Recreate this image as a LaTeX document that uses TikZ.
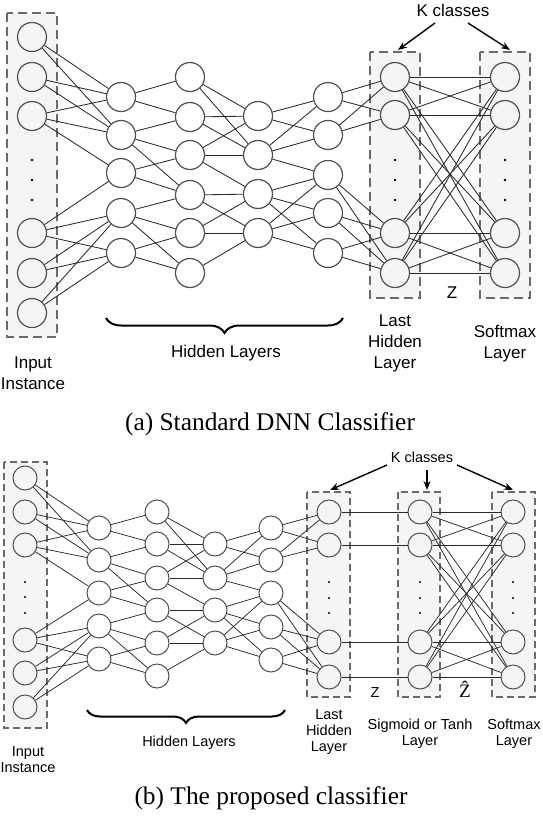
\documentclass[tikz,border=0pt]{standalone}
\usepackage{fontspec}
\setmainfont{Liberation Serif}
\newfontfamily\lsans{Liberation Sans}
\usetikzlibrary{decorations.pathreplacing,arrows.meta}
\definecolor{boxfill}{HTML}{F5F5F5}
\definecolor{boxline}{HTML}{6A6A6A}
\definecolor{edgecol}{HTML}{2A2A2A}
\definecolor{circline}{HTML}{505050}
\begin{document}
\begin{tikzpicture}[x=1pt,y=-1pt,
  neuA/.style={circle,draw=circline,line width=1.2pt,fill=white,minimum size=29pt,inner sep=0pt},
  neuB/.style={circle,draw=circline,line width=1pt,fill=white,minimum size=24pt,inner sep=0pt},
  inbox/.style={fill=boxfill},
  layboxA/.style={draw=boxline,fill=boxfill,line width=2.4pt,dash pattern=on 9pt off 5pt},
  layboxB/.style={draw=boxline,fill=boxfill,line width=2pt,dash pattern=on 7pt off 4pt},
  conA/.style={draw=edgecol,line width=0.85pt},
  conB/.style={draw=edgecol,line width=0.75pt},
  lblA/.style={font=\lsans\fontsize{17}{21}\selectfont,align=center,inner sep=0pt},
  lblB/.style={font=\lsans\fontsize{14.5}{16}\selectfont,align=center,inner sep=0pt},
  capt/.style={font=\fontsize{25.4}{30}\selectfont,inner sep=0pt},
  karrow/.style={-{Stealth[length=9pt,width=7pt]},line width=1.4pt,black},
  bracestyle/.style={decorate,line width=2pt,black},
  dot/.style={black}
]
\useasboundingbox (0,0) rectangle (542,822);

% ================= Panel (a) =================
\draw[layboxA] (7,13) rectangle (57,337);
\draw[layboxA] (370,52) rectangle (420,298);
\draw[layboxA] (480,52) rectangle (530,298);

\foreach \n/\y in {1/37,2/77,3/116,4/233,5/273,6/313}
  \node[neuA,inbox] (aI\n) at (32,\y) {};
\foreach \n/\y in {1/97,2/135,3/173,4/213,5/253}
  \node[neuA] (aA\n) at (121,\y) {};
\foreach \n/\y in {1/77,2/117,3/155,4/195,5/233,6/273}
  \node[neuA] (aB\n) at (190,\y) {};
\foreach \n/\y in {1/116,2/155,3/194,4/233}
  \node[neuA] (aC\n) at (258,\y) {};
\foreach \n/\y in {1/97,2/135,3/175,4/213,5/253}
  \node[neuA] (aD\n) at (328,\y) {};
\foreach \n/\y in {1/77,2/115,3/233,4/273}{
  \node[neuA,inbox] (aL\n) at (395,\y) {};
  \node[neuA,inbox] (aS\n) at (505,\y) {};
}
\foreach \x in {32,395,505}
  \foreach \y in {160,180,200}
    \fill[dot] (\x,\y) circle (1.4pt);

\foreach \s/\t in {1/1,1/2,2/1,2/2,3/1,3/2,3/3,4/3,4/4,4/5,5/4,5/5,6/4,6/5}
  \draw[conA] (aI\s) -- (aA\t);
\foreach \s/\t in {1/1,1/2,2/2,2/3,2/4,3/3,3/4,4/4,4/5,4/6,5/5,5/6}
  \draw[conA] (aA\s) -- (aB\t);
\foreach \s/\t in {1/1,1/2,2/1,2/2,3/1,3/2,3/3,4/3,4/4,5/3,5/4,6/4}
  \draw[conA] (aB\s) -- (aC\t);
\foreach \s/\t in {1/1,1/2,2/1,2/2,2/3,3/3,3/4,3/5,4/3,4/4,4/5}
  \draw[conA] (aC\s) -- (aD\t);
\foreach \s/\t in {1/1,1/2,2/1,2/2,3/3,3/4,4/3,4/4,5/3,5/4}
  \draw[conA] (aD\s) -- (aL\t);
\foreach \s in {1,2,3,4}
  \foreach \t in {1,2,3,4}
    \draw[conA] (aL\s) -- (aS\t);

\node[lblA] (aK) at (453,10) {K classes};
\coordinate (aKl) at (398,50);
\coordinate (aKr) at (510,50);
\draw[karrow] (435,23) -- (aKl);
\draw[karrow] (468,23) -- (aKr);
\node[lblA] (aZ) at (452,293) {Z};

\draw[bracestyle,decoration={brace,amplitude=15pt}] (343,318) -- (106,318);
\node[lblA] (aHid) at (226,353) {Hidden Layers};
\node[lblA] (aIn) at (33,373) {Input\\Instance};
\node[lblA] (aLast) at (395,343) {Last\\Hidden\\Layer};
\node[lblA] (aSoft) at (505,344) {Softmax\\Layer};
\node[capt] (capa) at (270,424) {(a) Standard DNN Classifier};

% ================= Panel (b) =================
\draw[layboxB] (4,462) rectangle (47,728);
\draw[layboxB] (307,492) rectangle (350,697);
\draw[layboxB] (398,492) rectangle (440,697);
\draw[layboxB] (492,492) rectangle (535,697);

\foreach \n/\y in {1/478,2/512,3/545,4/640,5/673,6/707}
  \node[neuB,inbox] (bI\n) at (25,\y) {};
\foreach \n/\y in {1/528,2/560,3/593,4/626,5/659}
  \node[neuB] (bA\n) at (99,\y) {};
\foreach \n/\y in {1/512,2/544,3/578,4/610,5/643,6/676}
  \node[neuB] (bB\n) at (157,\y) {};
\foreach \n/\y in {1/544,2/578,3/610,4/643}
  \node[neuB] (bC\n) at (215,\y) {};
\foreach \n/\y in {1/528,2/560,3/593,4/627,5/660}
  \node[neuB] (bD\n) at (271,\y) {};
\foreach \n/\y in {1/512,2/545,3/642,4/677}{
  \node[neuB,inbox] (bL\n) at (329,\y) {};
  \node[neuB,inbox] (bG\n) at (420,\y) {};
  \node[neuB,inbox] (bS\n) at (513,\y) {};
}
\foreach \x in {25}
  \foreach \y in {582,597,613}
    \fill[dot] (\x,\y) circle (1.2pt);
\foreach \x in {329,420,513}
  \foreach \y in {582,598,613}
    \fill[dot] (\x,\y) circle (1.2pt);

\foreach \s/\t in {1/1,1/2,2/1,2/2,3/1,3/2,3/3,4/3,4/4,4/5,5/4,5/5,6/4,6/5}
  \draw[conB] (bI\s) -- (bA\t);
\foreach \s/\t in {1/1,1/2,2/2,2/3,2/4,3/3,3/4,4/4,4/5,4/6,5/5,5/6}
  \draw[conB] (bA\s) -- (bB\t);
\foreach \s/\t in {1/1,1/2,2/1,2/2,3/1,3/2,3/3,4/3,4/4,5/3,5/4,6/4}
  \draw[conB] (bB\s) -- (bC\t);
\foreach \s/\t in {1/1,1/2,2/1,2/2,2/3,3/3,3/4,3/5,4/3,4/4,4/5}
  \draw[conB] (bC\s) -- (bD\t);
\foreach \s/\t in {1/1,1/2,2/1,2/2,3/3,3/4,4/3,4/4,5/3,5/4}
  \draw[conB] (bD\s) -- (bL\t);
\foreach \s in {1,2,3,4}
  \draw[conB] (bL\s) -- (bG\s);
\foreach \s in {1,2,3,4}
  \foreach \t in {1,2,3,4}
    \draw[conB] (bG\s) -- (bS\t);

\node[lblB] (bK) at (422,457) {K classes};
\coordinate (bKl) at (330,490);
\coordinate (bKm) at (427,490);
\coordinate (bKr) at (513,490);
\draw[karrow] (387,465) -- (bKl);
\draw[karrow] (427,470) -- (bKm);
\draw[karrow] (457,465) -- (bKr);
\node[lblB] (bZ) at (375,693) {Z};
\node[font=\fontsize{19}{21}\selectfont,inner sep=0pt] (bZh) at (465,689) {\^{Z}};

\draw[bracestyle,decoration={brace,amplitude=13pt}] (285,710) -- (87,710);
\node[lblB] (bHid) at (189,743) {Hidden Layers};
\node[lblB] (bIn) at (28,760) {Input\\Instance};
\node[lblB] (bLast) at (329,732) {Last\\Hidden\\Layer};
\node[lblB] (bSig) at (420,734) {Sigmoid or Tanh\\Layer};
\node[lblB] (bSoft) at (514,734) {Softmax\\Layer};
\node[capt] (capb) at (271,798) {(b) The proposed classifier};
\end{tikzpicture}
\end{document}
